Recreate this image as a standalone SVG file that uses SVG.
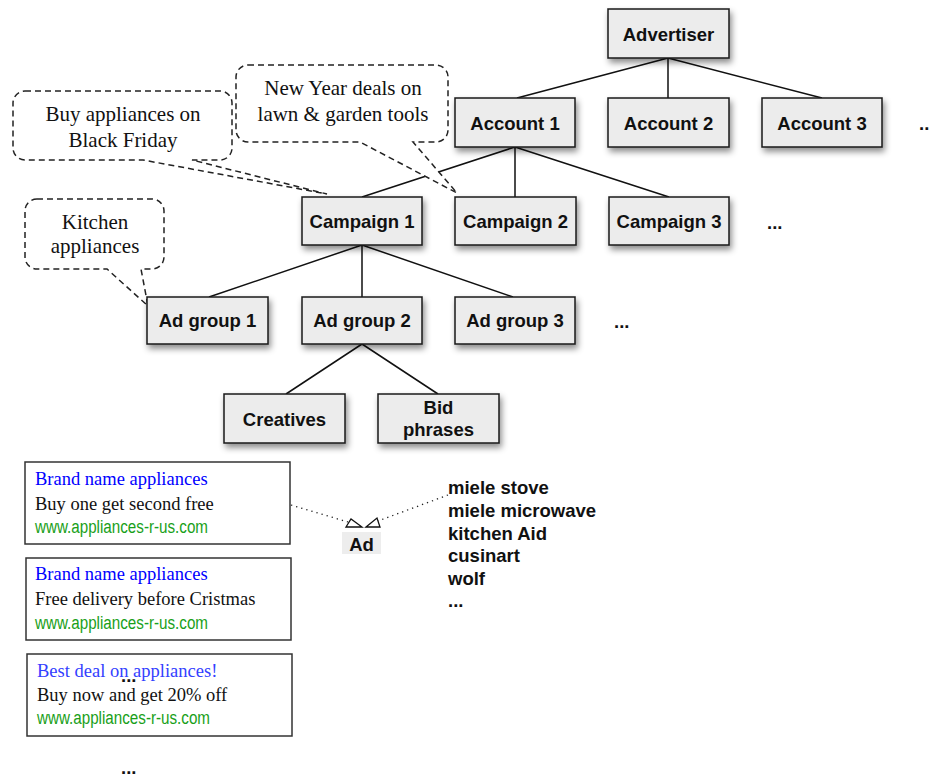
<svg xmlns="http://www.w3.org/2000/svg" width="930" height="777" viewBox="0 0 930 777">
<defs>
<filter id="sh" x="-20%" y="-20%" width="150%" height="160%">
<feDropShadow dx="2" dy="4" stdDeviation="3" flood-color="#000" flood-opacity="0.45"/>
</filter>
</defs>
<style>
.box{fill:#ececec;stroke:#1a1a1a;stroke-width:1.5;filter:url(#sh)}
.lbl{font-family:"Liberation Sans",Arial,sans-serif;font-weight:bold;font-size:18.5px;fill:#111;text-anchor:middle}
.bold{font-family:"Liberation Sans",Arial,sans-serif;font-weight:bold;font-size:18.5px;fill:#111}
.edge{stroke:#111;stroke-width:1.5;fill:none}
.call{fill:#fff;stroke:#222;stroke-width:1.5;stroke-dasharray:6 4}
.ser{font-family:"Liberation Serif","Times New Roman",serif;font-size:21px;fill:#111;text-anchor:middle}
.adbox{fill:#fff;stroke:#333;stroke-width:1.5}
.t1{font-family:"Liberation Serif","Times New Roman",serif;font-size:18.5px;fill:#0000ff}
.t2{font-family:"Liberation Serif","Times New Roman",serif;font-size:18.5px;fill:#111}
.url{font-family:"Liberation Sans",Arial,sans-serif;font-size:18px;fill:#19a019}
.dot{stroke:#222;stroke-width:1.3;stroke-dasharray:1.3 4;fill:none}
.head{fill:#fff;stroke:#111;stroke-width:1.3}
</style>
<g id="connectors">
<path class="edge" d="M668,58 L517,98 M668,58 L668,98 M668,58 L822,98"/>
<path class="edge" d="M515,147 L362,197 M515,147 L515,197 M515,147 L669,197"/>
<path class="edge" d="M362,245 L209,297 M362,245 L362,297 M362,245 L513,297"/>
<path class="edge" d="M362,344 L286,394 M362,344 L438,394"/>
<path class="dot" d="M291,505 L348,522"/>
<path class="dot" d="M448,495 L378,521"/>
<polygon class="head" points="346,527 351,519 362,527"/>
<polygon class="head" points="366,527 377,518 380,527"/>
</g>
<g id="callout-blackfriday">
<path class="call" d="M25,91 H220 A12,12 0 0 1 232,103 V148 A12,12 0 0 1 220,160 H192 L327,194 L143,160 H25 A12,12 0 0 1 13,148 V103 A12,12 0 0 1 25,91 Z"/>
<text class="ser" x="123" y="121">Buy appliances on</text>
<text class="ser" x="123" y="147">Black Friday</text>
</g>
<g id="callout-newyear">
<path class="call" d="M248,65 H436 A12,12 0 0 1 448,77 V130 A12,12 0 0 1 436,142 H413 L457,193 L360,142 H248 A12,12 0 0 1 236,130 V77 A12,12 0 0 1 248,65 Z"/>
<text class="ser" x="343" y="95">New Year deals on</text>
<text class="ser" x="343" y="121">lawn &amp; garden tools</text>
</g>
<g id="callout-kitchen">
<path class="call" d="M37,199 H152 A12,12 0 0 1 164,211 V257 A12,12 0 0 1 152,269 H141 L148,306 L107,269 H37 A12,12 0 0 1 25,257 V211 A12,12 0 0 1 37,199 Z"/>
<text class="ser" x="95" y="229">Kitchen</text>
<text class="ser" x="95" y="253">appliances</text>
</g>
<g id="advertiser"><rect class="box" x="608" y="9" width="121" height="49"/><text class="lbl" x="668.5" y="41">Advertiser</text></g>
<g id="account1"><rect class="box" x="455" y="98" width="120" height="49"/><text class="lbl" x="515" y="130">Account 1</text></g>
<g id="account2"><rect class="box" x="608" y="98" width="121" height="49"/><text class="lbl" x="668.5" y="130">Account 2</text></g>
<g id="account3"><rect class="box" x="762" y="98" width="120" height="49"/><text class="lbl" x="822" y="130">Account 3</text></g>
<g id="account-more"><text class="bold" x="919" y="130">...</text></g>
<g id="campaign1"><rect class="box" x="302" y="197" width="120" height="48"/><text class="lbl" x="362" y="228">Campaign 1</text></g>
<g id="campaign2"><rect class="box" x="455" y="197" width="121" height="48"/><text class="lbl" x="515.5" y="228">Campaign 2</text></g>
<g id="campaign3"><rect class="box" x="609" y="197" width="120" height="48"/><text class="lbl" x="669" y="228">Campaign 3</text></g>
<g id="campaign-more"><text class="bold" x="767" y="229">...</text></g>
<g id="adgroup1"><rect class="box" x="147" y="297" width="121" height="47"/><text class="lbl" x="207.5" y="327">Ad group 1</text></g>
<g id="adgroup2"><rect class="box" x="302" y="297" width="120" height="47"/><text class="lbl" x="362" y="327">Ad group 2</text></g>
<g id="adgroup3"><rect class="box" x="455" y="297" width="120" height="47"/><text class="lbl" x="515" y="327">Ad group 3</text></g>
<g id="adgroup-more"><text class="bold" x="614" y="328">...</text></g>
<g id="creatives"><rect class="box" x="224" y="394" width="121" height="49"/><text class="lbl" x="284.5" y="426">Creatives</text></g>
<g id="bidphrases"><rect class="box" x="378" y="394" width="121" height="49"/><text class="lbl" x="438.5" y="414">Bid</text><text class="lbl" x="438.5" y="436">phrases</text></g>
<g id="ad"><rect x="342" y="532" width="39" height="22" fill="#ededed"/><text class="lbl" x="361.5" y="551">Ad</text></g>
<g id="bid-list">
<text class="bold" x="448" y="494">miele stove</text>
<text class="bold" x="448" y="517">miele microwave</text>
<text class="bold" x="448" y="540">kitchen Aid</text>
<text class="bold" x="448" y="562">cusinart</text>
<text class="bold" x="448" y="585">wolf</text>
<text class="bold" x="448" y="607">...</text>
</g>
<g id="ad1">
<rect class="adbox" x="25" y="462" width="265" height="82"/>
<text class="t1" x="35" y="485">Brand name appliances</text>
<text class="t2" x="35" y="510">Buy one get second free</text>
<text class="url" x="35" y="533" textLength="173" lengthAdjust="spacingAndGlyphs">www.appliances-r-us.com</text>
</g>
<g id="ad2">
<rect class="adbox" x="26" y="558" width="265" height="82"/>
<text class="t1" x="35" y="580">Brand name appliances</text>
<text class="t2" x="35" y="605">Free delivery before Cristmas</text>
<text class="url" x="35" y="629" textLength="173" lengthAdjust="spacingAndGlyphs">www.appliances-r-us.com</text>
</g>
<g id="ad3">
<rect class="adbox" x="27" y="654" width="265" height="82"/>
<text class="t1" x="37" y="677" style="fill:#3340ff">Best deal on appliances!</text>
<text class="t2" x="37" y="701">Buy now and get 20% off</text>
<text class="url" x="37" y="724" textLength="173" lengthAdjust="spacingAndGlyphs">www.appliances-r-us.com</text>
<text class="bold" x="121" y="682">...</text>
</g>
<g id="ads-more"><text class="bold" x="121" y="774">...</text></g>
</svg>
